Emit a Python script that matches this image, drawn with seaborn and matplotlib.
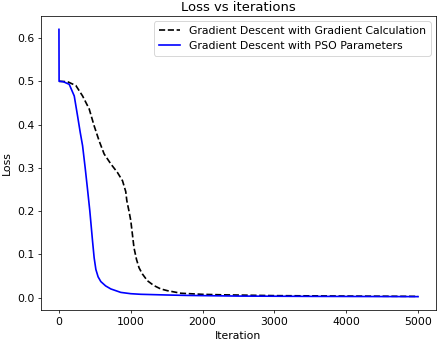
import matplotlib
matplotlib.use("Agg")
import matplotlib.pyplot as plt
import seaborn as sns
import pandas as pd

# Gradient Descent with Gradient Calculation (black dashed)
gd_iter = [0, 120, 236, 329, 421, 490, 560, 629, 722, 815, 885, 930, 945, 975, 1000, 1045,
           1080, 1115, 1160, 1231, 1320, 1417, 1509, 1700, 2000, 2250, 3000, 4000, 5000]
gd_loss = [0.500, 0.499, 0.490, 0.466, 0.436, 0.397, 0.362, 0.332, 0.309, 0.289, 0.270,
           0.245, 0.224, 0.200, 0.178, 0.115, 0.088, 0.069, 0.055, 0.039, 0.028, 0.020,
           0.016, 0.010, 0.0075, 0.0065, 0.0045, 0.0035, 0.0028]

# Gradient Descent with PSO Parameters (blue solid)
pso_iter = [0, 2, 60, 143, 213, 259, 296, 329, 365, 398, 430, 468, 490, 514, 545, 583,
            650, 722, 861, 1000, 1139, 1500, 1787, 2500, 3500, 5000]
pso_loss = [0.620, 0.500, 0.499, 0.493, 0.466, 0.420, 0.382, 0.351, 0.300, 0.250, 0.200,
            0.130, 0.092, 0.065, 0.048, 0.037, 0.027, 0.020, 0.012, 0.009, 0.0076, 0.006,
            0.005, 0.0035, 0.0028, 0.0022]

labels = ["Gradient Descent with Gradient Calculation", "Gradient Descent with PSO Parameters"]

df_gd = pd.DataFrame({"Iteration": gd_iter, "Loss": gd_loss})
df_pso = pd.DataFrame({"Iteration": pso_iter, "Loss": pso_loss})

plt.rcParams["font.size"] = 11.5

dpi = 68.4
fig = plt.figure(figsize=(438 / dpi, 342 / dpi), dpi=dpi)
ax = fig.add_axes([41 / 438, 1 - 310 / 342, (436 - 41) / 438, (310 - 16) / 342])

sns.lineplot(data=df_gd, x="Iteration", y="Loss", ax=ax, color="black",
             linestyle="--", linewidth=1.75, label=labels[0])
sns.lineplot(data=df_pso, x="Iteration", y="Loss", ax=ax, color="blue",
             linestyle="-", linewidth=1.75, label=labels[1])

ax.set_title("Loss vs iterations", pad=5.5)
ax.set_xlabel("Iteration", labelpad=5)
ax.set_ylabel("Loss", labelpad=5)
ax.set_xticks([0, 1000, 2000, 3000, 4000, 5000])
ax.set_yticks([0.0, 0.1, 0.2, 0.3, 0.4, 0.5, 0.6])
ax.legend(loc="upper right")

fig.savefig("out.png", dpi=dpi)
